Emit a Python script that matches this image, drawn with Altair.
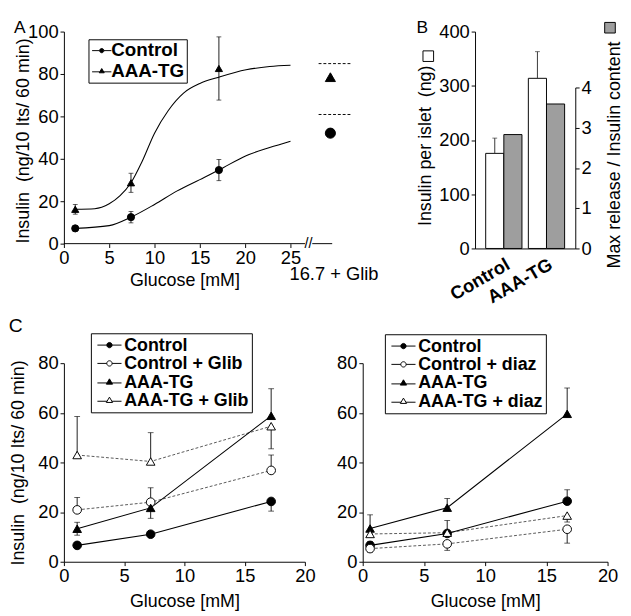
import altair as alt
import pandas as pd

FONT = "Liberation Sans"

# ---------------- Panel A data ----------------
a_glucose = [1.25, 7.4, 17.1]
a_control = [7.2, 12.5, 34.7]
a_control_err = [0.9, 2.7, 5.0]
a_tg = [16.2, 28.7, 82.6]
a_tg_err = [2.3, 4.5, 14.9]
a_fit_control_x = [1.25, 5, 7.4, 10, 12.5, 15, 17.1, 20.1, 22.7, 25]
a_fit_control_y = [7.2, 8.5, 12.5, 18.5, 24.9, 30.2, 34.7, 41.5, 45.3, 48.3]
a_fit_tg_x = [1.25, 3.4, 5, 6.2, 7.4, 8.6, 10, 11.5, 13.2, 15, 17.1, 20.1, 22.7, 25]
a_fit_tg_y = [16.2, 16.5, 18.8, 22.6, 28.7, 38.5, 52.1, 62.7, 71.0, 75.5, 78.5, 82.0, 83.5, 84.1]
a_glib_label = "16.7 + Glib"
a_glib_values = [52.1, 78.5]          # Control, AAA-TG
a_glib_reference = [60.9, 84.9]       # dashed reference levels
a_series = ["Control", "AAA-TG"]

# ---------------- Panel B data ----------------
b_groups = ["Control", "AAA-TG"]
b_insulin = [175.4, 313.8]
b_insulin_err = [28.1, 49.2]
b_ratio = [2.83, 3.59]

# ---------------- Panel C data ----------------
cl_glucose = [1.1, 7.2, 17.2]
cl_names = ["Control", "Control + Glib", "AAA-TG", "AAA-TG + Glib"]
cl_values = [[6.6, 11.1, 24.3], [20.9, 24.0, 36.8], [13.3, 21.7, 58.8], [43.0, 40.4, 54.6]]
cl_err_up = [[0, 0, 0], [5.0, 5.8, 6.2], [2.6, 0, 10.9], [15.5, 11.6, 0]]
cl_err_dn = [[0, 0, 3.9], [0, 0, 0], [2.6, 4.2, 0], [0, 0, 9.1]]

cr_glucose = [0.6, 6.9, 16.7]
cr_names = ["Control", "Control + diaz", "AAA-TG", "AAA-TG + diaz"]
cr_values = [[6.6, 11.4, 24.4], [5.3, 7.2, 13.1], [13.4, 21.8, 59.6], [11.2, 11.7, 18.6]]
cr_err_up = [[1.5, 0, 4.6], [0, 0, 0], [5.5, 3.7, 10.4], [0, 4.9, 0]]
cr_err_dn = [[1.5, 0, 0], [1.4, 2.6, 5.6], [0, 0, 0], [0, 0, 2.6]]

# ---------------- styles ----------------
SHAPES4 = ["circle", "circle", "triangle-up", "triangle-up"]
FILLS4 = ["black", "white", "black", "white"]
DASHED4 = [False, True, False, True]

# legend keys: marker with a short line on each side (unit box -1..1)
P_CIRCLE = "M-2.5,0L-0.55,0M0.55,0L2.5,0M-0.55,0A0.55,0.55,0,1,1,0.55,0A0.55,0.55,0,1,1,-0.55,0Z"
P_TRI = "M-2.5,0.25L-0.5,0.25M0.5,0.25L2.5,0.25M0,-0.6L0.65,0.5L-0.65,0.5Z"
PATHS4 = [P_CIRCLE, P_CIRCLE, P_TRI, P_TRI]


def series_frames(xs, names, values, ups, dns, shapes, fills):
    pts, caps = [], []
    for name, vals, up, dn, shp, fl in zip(names, values, ups, dns, shapes, fills):
        for xv, v, u, d in zip(xs, vals, up, dn):
            pts.append(dict(x=xv, y=v, lo=v - d, hi=v + u, series=name, shape=shp, fill=fl))
            if u > 0:
                caps.append(dict(x=xv, y=v + u))
            if d > 0:
                caps.append(dict(x=xv, y=v - d))
    return pd.DataFrame(pts), pd.DataFrame(caps)


def legend_layer(df, X, Y, names, paths, fills, lx, ly, size, font_size, pad, sym_off, lab_off):
    leg = alt.Legend(title=None, orient="none", legendX=lx, legendY=ly,
                     labelFont=FONT, labelFontSize=font_size, labelFontWeight="bold",
                     labelColor="black", symbolSize=size, symbolStrokeColor="black",
                     symbolStrokeWidth=1, symbolOpacity=1, symbolOffset=sym_off,
                     labelOffset=lab_off, strokeColor="black", fillColor="white",
                     padding=pad, rowPadding=0)
    first = df.groupby("series", sort=False).head(1)
    return alt.Chart(first).mark_point(opacity=0).encode(
        x=X("x"), y=Y("y"),
        shape=alt.Shape("series:N", scale=alt.Scale(domain=names, range=paths), legend=leg),
        fill=alt.Fill("series:N", scale=alt.Scale(domain=names, range=fills), legend=leg),
    )


def panel_title(letter, color="black", offset=-11, size=18):
    return alt.TitleParams(letter, anchor="start", fontSize=size, fontWeight="normal",
                           font=FONT, color=color, offset=offset)


# ================= Panel A =================
A_H = 220
a_xscale = alt.Scale(domain=[0, 31.8], nice=False, zero=False)
a_yscale = alt.Scale(domain=[0, 100], nice=False)
a_xaxis = alt.Axis(values=[0, 5, 10, 15, 20, 25], domain=False, title="Glucose [mM]",
                   titleX=125, titlePadding=3)
a_yaxis = alt.Axis(values=[0, 20, 40, 60, 80, 100],
                   title="Insulin\u00a0\u00a0(ng/10 Its/ 60 min)", titlePadding=-5, titleY=113)


def AX(f):
    return alt.X(f, type="quantitative", scale=a_xscale, axis=a_xaxis)


def AY(f):
    return alt.Y(f, type="quantitative", scale=a_yscale, axis=a_yaxis)


a_pts, a_caps = series_frames(a_glucose, a_series, [a_control, a_tg], [a_control_err, a_tg_err],
                              [a_control_err, a_tg_err], ["circle", "triangle-up"], ["black", "black"])
a_fit = pd.concat([
    pd.DataFrame(dict(x=a_fit_control_x, y=a_fit_control_y, series="Control")),
    pd.DataFrame(dict(x=a_fit_tg_x, y=a_fit_tg_y, series="AAA-TG")),
])
A_GLIB_X = 29.4
a_glib = pd.DataFrame(dict(x=[A_GLIB_X] * 2, y=a_glib_values, shape=["circle", "triangle-up"],
                           fill=["black", "black"]))
a_ref = pd.DataFrame(dict(x=[28.1] * 2, x2=[31.7] * 2, y=a_glib_reference))
a_base = pd.DataFrame(dict(x=[0, 27.4], x2=[26.6, 29.6], y=[0, 0]))
a_texts = pd.DataFrame(dict(x=[27.0], y=[0], t=["//"]))
a_glib_txt = pd.DataFrame(dict(x=[29.8], y=[-14.5], t=[a_glib_label]))

A = alt.layer(
    alt.Chart(a_fit).mark_line(color="black", strokeWidth=1.1, interpolate="monotone").encode(
        x=AX("x"), y=AY("y"), detail="series:N"),
    alt.Chart(a_pts).mark_rule(color="black", strokeWidth=0.9).encode(
        x=AX("x"), y=AY("lo"), y2="hi"),
    alt.Chart(a_caps).mark_tick(orient="horizontal", size=5, thickness=0.9, color="black").encode(
        x=AX("x"), y=AY("y")),
    alt.Chart(a_pts).mark_point(size=55, stroke="black", strokeWidth=1, opacity=1).encode(
        x=AX("x"), y=AY("y"), shape=alt.Shape("shape:N", scale=None), fill=alt.Fill("fill:N", scale=None)),
    alt.Chart(a_ref).mark_rule(color="black", strokeWidth=1, strokeDash=[3, 2]).encode(
        x=AX("x"), x2="x2", y=AY("y")),
    alt.Chart(a_glib).mark_point(size=110, stroke="black", strokeWidth=1, opacity=1).encode(
        x=AX("x"), y=AY("y"), shape=alt.Shape("shape:N", scale=None), fill=alt.Fill("fill:N", scale=None)),
    alt.Chart(a_base).mark_rule(color="black", strokeWidth=1).encode(
        x=AX("x"), x2="x2", y=AY("y")),
    alt.Chart(a_texts).mark_text(font=FONT, fontSize=15, color="black").encode(
        x=AX("x"), y=AY("y"), text="t:N"),
    alt.Chart(a_glib_txt).mark_text(font=FONT, fontSize=19, color="black").encode(
        x=AX("x"), y=AY("y"), text="t:N"),
    legend_layer(a_pts, AX, AY, a_series, [P_CIRCLE, P_TRI], ["black", "black"],
                 lx=25.5, ly=8, size=64, font_size=19.5, pad=2, sym_off=2, lab_off=0),
).properties(width=299, height=A_H, title=panel_title("A", offset=-14))

# ================= Panel B =================
b_white = pd.DataFrame(dict(group=b_groups, kind="islet", v=b_insulin,
                            hi=[v + e for v, e in zip(b_insulin, b_insulin_err)], key="w"))
b_gray = pd.DataFrame(dict(group=b_groups, kind="ratio", r=b_ratio, key="g"))

B_H = 225
bx = alt.X("group:N", scale=alt.Scale(domain=b_groups, paddingInner=0.15, paddingOuter=0.25),
           axis=alt.Axis(title=None, labelAngle=-30, labelAlign="right", labelBaseline="top",
                         ticks=False, labelFontWeight="bold", labelPadding=7, labelFontSize=19))
bxo = alt.XOffset("kind:N", scale=alt.Scale(domain=["islet", "ratio"], paddingInner=0, paddingOuter=0))
b_ly = alt.Axis(values=[0, 100, 200, 300, 400], title="Insulin per islet\u00a0\u00a0(ng)",
                titlePadding=4, titleY=118)


def key_legend(lx, ly):
    return alt.Legend(title=None, orient="none", legendX=lx, legendY=ly, labelExpr="''",
                      symbolType="square", symbolSize=121, symbolStrokeColor="black",
                      symbolStrokeWidth=1, padding=0, labelFontSize=1, symbolOpacity=1)


b_left = alt.layer(
    alt.Chart(b_white).mark_bar(stroke="black", strokeWidth=1).encode(
        x=bx, xOffset=bxo,
        y=alt.Y("v:Q", scale=alt.Scale(domain=[0, 400], nice=False), axis=b_ly),
        fill=alt.Fill("key:N", scale=alt.Scale(domain=["w"], range=["white"]),
                      legend=key_legend(-54.5, 19.5))),
    alt.Chart(b_white).mark_rule(color="#333", strokeWidth=1).encode(
        x=bx, xOffset=bxo, y=alt.Y("v:Q", axis=b_ly), y2="hi"),
    alt.Chart(b_white).mark_tick(orient="horizontal", size=5, thickness=1, color="#333").encode(
        x=bx, xOffset=bxo, y=alt.Y("hi:Q", axis=b_ly)),
)
b_right = alt.Chart(b_gray).mark_bar(stroke="black", strokeWidth=1).encode(
    x=bx, xOffset=bxo,
    y=alt.Y("r:Q", scale=alt.Scale(domain=[0, 4], nice=False, range=[B_H, B_H - 167]),
            axis=alt.Axis(orient="right", values=[0, 1, 2, 3, 4], title="Max release / Insulin content",
                          titleAngle=270, titleBaseline="top", titlePadding=14, titleY=127.5)),
    fill=alt.Fill("key:N", scale=alt.Scale(domain=["g"], range=["#9e9e9e"]),
                  legend=key_legend(134, -10)),
)
B = alt.layer(b_left, b_right).resolve_scale(y="independent", fill="independent").resolve_legend(
    fill="independent").properties(width=104, height=B_H, title=panel_title("B", offset=-15))


# ================= Panel C =================
def make_c(xs, names, values, ups, dns, width, lx, ly, ytitle, title_color):
    xscale = alt.Scale(domain=[0, 20], nice=False)
    yscale = alt.Scale(domain=[0, 80], nice=False)
    xaxis = alt.Axis(values=[0, 5, 10, 15, 20], title="Glucose [mM]", titlePadding=6)
    yaxis = alt.Axis(values=[0, 20, 40, 60, 80], title=ytitle, titlePadding=11) if ytitle else \
        alt.Axis(values=[0, 20, 40, 60, 80], title=None)

    def X(f):
        return alt.X(f, type="quantitative", scale=xscale, axis=xaxis)

    def Y(f):
        return alt.Y(f, type="quantitative", scale=yscale, axis=yaxis)

    pts, caps = series_frames(xs, names, values, ups, dns, SHAPES4, FILLS4)
    solid = pts[pts.series.isin([n for n, d in zip(names, DASHED4) if not d])]
    dotted = pts[pts.series.isin([n for n, d in zip(names, DASHED4) if d])]
    return alt.layer(
        alt.Chart(dotted).mark_line(color="#555", strokeWidth=1, strokeDash=[3, 2]).encode(
            x=X("x"), y=Y("y"), detail="series:N"),
        alt.Chart(solid).mark_line(color="black", strokeWidth=1.1).encode(
            x=X("x"), y=Y("y"), detail="series:N"),
        alt.Chart(pts).mark_rule(color="black", strokeWidth=0.9).encode(
            x=X("x"), y=Y("lo"), y2="hi"),
        alt.Chart(caps).mark_tick(orient="horizontal", size=6, thickness=0.9, color="black").encode(
            x=X("x"), y=Y("y")),
        alt.Chart(pts).mark_point(size=80, stroke="black", strokeWidth=1, opacity=1).encode(
            x=X("x"), y=Y("y"), shape=alt.Shape("shape:N", scale=None), fill=alt.Fill("fill:N", scale=None)),
        legend_layer(pts, X, Y, names, PATHS4, FILLS4, lx=lx, ly=ly, size=100, font_size=18.5,
                     pad=3, sym_off=7, lab_off=6),
    ).properties(width=width, height=206, title=panel_title("C", title_color, -3, 20))


C1 = make_c(cl_glucose, cl_names, cl_values, cl_err_up, cl_err_dn, 250, 28, -31,
            "Insulin\u00a0\u00a0(ng/10 Its/ 60 min)", "black")
C2 = make_c(cr_glucose, cr_names, cr_values, cr_err_up, cr_err_dn, 254, 23, -30, None, "white")

IND = dict(shape="independent", fill="independent")
row1 = alt.hconcat(A, B, spacing=127.5, bounds="flush").resolve_scale(**IND)
row2 = alt.hconcat(C1, C2, spacing=60, bounds="flush").resolve_scale(**IND)
chart = alt.vconcat(row1, row2, spacing=9).resolve_scale(**IND).properties(padding=0).configure(
    font=FONT).configure_view(stroke=None).configure_axis(
    grid=False, domainColor="black", tickColor="black", labelColor="black", titleColor="black",
    labelFont=FONT, titleFont=FONT, labelFontSize=19, titleFontSize=18.5, titleFontWeight="normal",
    tickSize=4, labelPadding=2, domainWidth=1, tickWidth=1, labelFlush=False, labelOverlap=False)

chart.save("out.html", embed_options={"renderer": "svg", "actions": False})
